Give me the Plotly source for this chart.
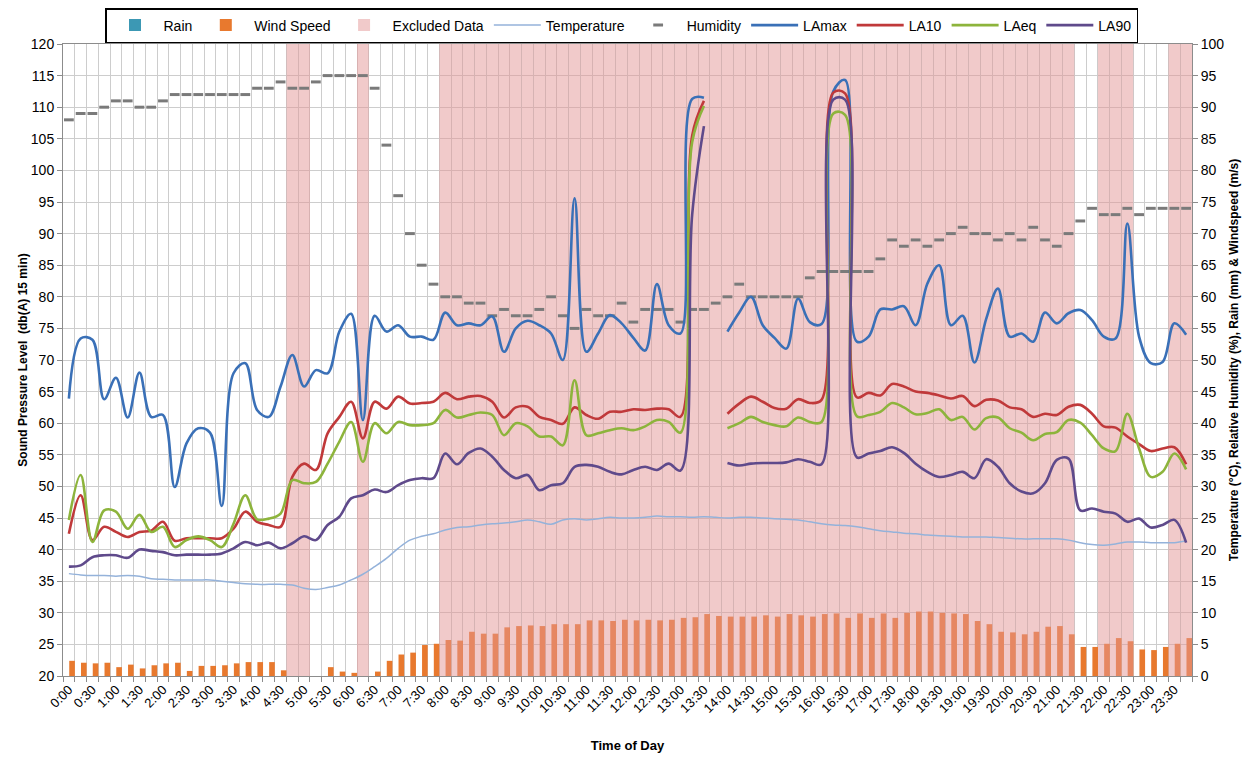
import plotly.graph_objects as go

# ---------------- data ----------------
times = [f"{h}:{m:02d}" for h in range(24) for m in (0, 15, 30, 45)]

la_max = [63.9, 73.4, 73.2, 63.8, 67.2, 60.9, 68.0, 61.0, 61.3, 49.9,
          56.8, 59.2, 58.5, 46.9, 67.9, 69.5, 62.1, 61.0, 65.8, 70.8,
          65.8, 68.4, 67.9, 74.5, 77.3, 60.5, 77.0, 74.5, 75.5, 73.7,
          73.7, 73.2, 77.5, 75.5, 75.8, 75.5, 76.9, 71.3, 75.0, 76.2,
          75.5, 74.2, 70.0, 95.6, 71.3, 74.2, 77.1, 75.8, 73.5, 71.5,
          82.0, 75.5, 74.2, 111.3, 111.5, None, 74.5, 77.5, 80.0, 75.5,
          73.5, 71.8, 79.7, 76.0, 75.7, 112.5, 114.3, 72.9, 73.7, 78.0,
          78.0, 78.5, 75.5, 82.1, 85.0, 75.5, 77.0, 69.6, 76.5, 81.3,
          73.7, 74.2, 72.9, 77.5, 75.8, 77.4, 77.9, 76.3, 73.7, 73.4,
          91.6, 73.7, 69.5, 69.7, 75.8, 74.0]

la_10 = [42.5, 48.6, 41.5, 43.6, 42.8, 42.0, 42.8, 43.0, 44.4, 41.4,
         41.8, 41.8, 41.8, 41.8, 43.3, 46.0, 44.4, 43.9, 43.6, 51.5,
         53.6, 52.6, 58.4, 61.0, 63.4, 57.6, 63.4, 62.3, 64.2, 63.1,
         63.2, 63.4, 64.8, 63.8, 64.2, 64.3, 63.4, 60.9, 62.5, 62.6,
         61.0, 60.5, 59.9, 62.5, 61.3, 60.7, 61.8, 61.8, 62.2, 62.1,
         62.3, 62.2, 61.0, 105.5, 111.0, None, 61.5, 63.1, 64.2, 63.4,
         62.4, 62.3, 63.8, 63.2, 63.7, 112.3, 112.2, 64.1, 64.8, 64.4,
         66.2, 65.8, 65.0, 64.8, 64.4, 63.9, 64.3, 62.7, 63.7, 63.6,
         62.5, 62.2, 61.0, 61.5, 61.3, 62.6, 62.9, 61.5, 59.5, 59.3,
         57.9, 56.7, 55.6, 56.0, 56.2, 53.5]

la_eq = [44.7, 51.8, 41.2, 46.2, 46.0, 43.3, 45.5, 42.8, 43.6, 40.4,
         41.5, 42.1, 41.5, 40.4, 44.1, 48.6, 44.8, 44.9, 45.7, 51.0,
         50.5, 50.7, 53.6, 57.1, 60.2, 53.9, 60.0, 58.4, 60.2, 59.7,
         59.7, 60.0, 62.1, 60.9, 61.3, 61.7, 61.3, 58.1, 60.0, 59.5,
         57.9, 57.9, 56.5, 66.8, 58.1, 58.4, 58.9, 59.2, 58.9, 59.5,
         60.5, 60.2, 58.5, 104.5, 110.2, None, 59.2, 60.0, 61.0, 60.2,
         59.7, 59.5, 60.9, 60.2, 60.2, 109.0, 108.8, 61.1, 61.3, 61.8,
         63.2, 62.5, 61.4, 61.6, 62.2, 60.5, 61.0, 59.0, 60.8, 60.9,
         59.2, 58.5, 57.3, 58.3, 58.6, 60.5, 60.1, 58.1, 56.0, 55.6,
         61.5, 56.0, 51.5, 52.3, 55.2, 52.7]

la_90 = [37.3, 37.5, 38.8, 39.1, 39.1, 38.7, 40.0, 39.8, 39.6, 39.1,
         39.2, 39.2, 39.2, 39.4, 40.2, 41.2, 40.7, 41.1, 40.2, 41.0,
         42.1, 41.5, 43.9, 45.2, 48.1, 48.6, 49.5, 49.1, 50.2, 51.0,
         51.3, 51.3, 55.2, 53.5, 55.3, 56.0, 54.7, 52.6, 51.3, 51.8,
         49.4, 50.2, 50.5, 53.1, 53.4, 53.1, 52.3, 51.9, 52.6, 53.1,
         52.6, 53.6, 52.5, 93.0, 107.0, None, 53.7, 53.3, 53.6, 53.7,
         53.7, 53.8, 54.3, 53.9, 53.5, 111.2, 111.2, 54.6, 55.2, 55.6,
         56.2, 55.3, 53.6, 52.3, 51.5, 51.8, 52.3, 51.3, 54.3, 53.1,
         50.5, 49.2, 48.9, 50.5, 54.2, 54.4, 46.2, 46.5, 46.0, 45.7,
         44.4, 44.9, 43.5, 43.9, 44.7, 41.1]

temperature = [16.2, 16.0, 15.9, 15.9, 15.8, 15.9, 15.8, 15.4, 15.3, 15.2,
               15.2, 15.2, 15.2, 15.0, 14.8, 14.6, 14.5, 14.5, 14.5, 14.4,
               13.9, 13.7, 14.0, 14.4, 15.2, 16.1, 17.3, 18.6, 20.2, 21.5,
               22.1, 22.5, 23.1, 23.5, 23.6, 23.9, 24.1, 24.2, 24.4, 24.7,
               24.4, 24.0, 24.7, 24.9, 24.7, 24.9, 25.1, 25.0, 25.0, 25.1,
               25.3, 25.2, 25.2, 25.1, 25.2, 25.1, 25.0, 25.1, 25.1, 25.0,
               24.9, 24.8, 24.7, 24.4, 24.1, 23.9, 23.8, 23.6, 23.3, 23.0,
               22.8, 22.6, 22.5, 22.3, 22.2, 22.1, 22.0, 22.0, 22.0, 21.9,
               21.8, 21.7, 21.7, 21.7, 21.7, 21.5, 21.1, 20.8, 20.7, 20.9,
               21.2, 21.2, 21.1, 21.1, 21.1, 21.4]

humidity = [88, 89, 89, 90, 91, 91, 90, 90, 91, 92,
            92, 92, 92, 92, 92, 92, 93, 93, 94, 93,
            93, 94, 95, 95, 95, 95, 93, 84, 76, 70,
            65, 62, 60, 60, 59, 59, 57, 58, 57, 57,
            58, 60, 57, 55, 58, 57, 57, 59, 56, 58,
            58, 58, 56, 58, 58, 59, 60, 62, 60, 60,
            60, 60, 60, 63, 64, 64, 64, 64, 64, 66,
            69, 68, 69, 68, 69, 70, 71, 70, 70, 69,
            70, 69, 71, 69, 68, 70, 72, 74, 73, 73,
            74, 73, 74, 74, 74, 74]

wind_speed = [2.4, 2.1, 2.0, 2.1, 1.4, 1.8, 1.2, 1.7, 2.0, 2.1,
              0.8, 1.6, 1.6, 1.7, 2.0, 2.2, 2.2, 2.2, 0.9, 0,
              0, 0, 1.4, 0.7, 0.5, 0, 0.7, 2.4, 3.4, 3.7,
              4.9, 5.1, 5.7, 5.6, 7.0, 6.7, 6.7, 7.7, 7.9, 8.0,
              7.9, 8.2, 8.2, 8.2, 8.8, 8.8, 8.7, 8.9, 8.8, 8.9,
              8.8, 8.9, 9.2, 9.3, 9.8, 9.5, 9.4, 9.4, 9.4, 9.6,
              9.4, 9.8, 9.6, 9.4, 9.8, 9.9, 9.2, 9.9, 9.2, 9.9,
              9.2, 10.0, 10.2, 10.2, 10.0, 9.9, 9.8, 8.7, 8.2, 7.0,
              6.9, 6.6, 7.0, 7.8, 7.9, 6.6, 4.6, 4.6, 5.1, 6.0,
              5.5, 4.2, 4.1, 4.6, 5.1, 6.0]

rain = [0] * 96

excluded_flag = [0, 0, 0, 0, 0, 0, 0, 0, 0, 0,
                 0, 0, 0, 0, 0, 0, 0, 0, 0, 1,
                 1, 0, 0, 0, 0, 1, 0, 0, 0, 0,
                 0, 0, 1, 1, 1, 1, 1, 1, 1, 1,
                 1, 1, 1, 1, 1, 1, 1, 1, 1, 1,
                 1, 1, 1, 1, 1, 1, 1, 1, 1, 1,
                 1, 1, 1, 1, 1, 1, 1, 1, 1, 1,
                 1, 1, 1, 1, 1, 1, 1, 1, 1, 1,
                 1, 1, 1, 1, 1, 1, 0, 0, 1, 1,
                 1, 0, 0, 0, 1, 1]

# ---------------- figure ----------------
x = list(range(len(times)))
excluded = [100 if f else None for f in excluded_flag]

FONT = "Liberation Sans, Arial, sans-serif"
GRID = "#CDCDCD"
AXIS = "#8C8C8C"

fig = go.Figure()

# right-axis (base subplot, drawn first): bars, temperature, humidity
fig.add_trace(go.Bar(x=x, y=rain, name="Rain", yaxis="y",
                     marker=dict(color="#3C98B4", line_width=0),
                     width=0.48, offset=-0.48, legendrank=1))
fig.add_trace(go.Bar(x=x, y=wind_speed, name="Wind Speed", yaxis="y",
                     marker=dict(color="#E8792E", line_width=0),
                     width=0.48, offset=0.03, legendrank=2))
fig.add_trace(go.Bar(x=x, y=excluded, name="Excluded Data", yaxis="y",
                     marker=dict(color="rgba(228,150,150,0.5)", line_width=0),
                     width=1.0, offset=-0.5, legendrank=3))

fig.add_trace(go.Scatter(x=x, y=temperature, name="Temperature", yaxis="y",
                         mode="lines", line=dict(color="#94B2DA", width=1.5, shape="spline"),
                         legendrank=4))
fig.add_trace(go.Scatter(x=x, y=humidity, name="Humidity", yaxis="y",
                         mode="markers",
                         marker=dict(symbol="line-ew", size=7,
                                     line=dict(width=3, color="#7A7A7A")),
                         legendrank=5))

# left-axis (overlay subplot, drawn on top): sound levels
for name, vals, col, rank in [("LAmax", la_max, "#3A70B7", 6),
                              ("LA10", la_10, "#C0393A", 7),
                              ("LAeq", la_eq, "#8DB43C", 8),
                              ("LA90", la_90, "#5F4A8B", 9)]:
    fig.add_trace(go.Scatter(x=x, y=vals, name=name, yaxis="y2",
                             mode="lines", connectgaps=False,
                             line=dict(color=col, width=2.6, shape="spline", smoothing=1.0),
                             legendrank=rank))

boundaries = [i - 0.5 for i in range(len(times) + 1)]

fig.update_layout(
    width=1250, height=750,
    paper_bgcolor="white", plot_bgcolor="white",
    margin=dict(l=55, r=66, t=36, b=82, autoexpand=False),
    font=dict(family=FONT, size=13, color="#000000"),
    barmode="overlay",
    showlegend=True,
    legend=dict(orientation="h", xref="container", yref="container",
                x=0.4908, xanchor="center", y=1.0, yanchor="top",
                bordercolor="#000000", borderwidth=1.5, bgcolor="white",
                itemwidth=47, font=dict(family=FONT, size=14),
                tracegroupgap=0, traceorder="normal"),
    xaxis=dict(range=[-0.5, len(times) - 0.5], automargin=False,
               tickmode="array", tickvals=x[::2], ticktext=times[::2],
               tickangle=-45, ticks="", showgrid=False, zeroline=False,
               showline=True, linecolor=AXIS, mirror=True,
               tickfont=dict(size=13),
               minor=dict(tickmode="array", tickvals=boundaries, ticks="outside",
                          ticklen=5, tickcolor=AXIS, showgrid=True,
                          gridcolor=GRID, gridwidth=1),
               title=dict(text="<b>Time of Day</b>", font=dict(size=13), standoff=26)),
    yaxis=dict(range=[0, 100], tick0=0, dtick=5, side="right", automargin=False,
               showgrid=True, gridcolor=GRID, zeroline=False,
               showline=True, linecolor=AXIS, ticks="outside", ticklen=5,
               tickcolor=AXIS, tickfont=dict(size=14),
               title=dict(text="<b>Temperature (°C), Relative Humidity (%), Rain (mm) & Windspeed (m/s)</b>",
                          font=dict(size=12), standoff=6)),
    yaxis2=dict(range=[20, 120], tick0=20, dtick=5, side="left", overlaying="y",
                automargin=False, showgrid=False, zeroline=False,
                showline=True, linecolor=AXIS, ticks="outside", ticklen=5,
                tickcolor=AXIS, tickfont=dict(size=14),
                title=dict(text="<b>Sound Pressure Level  (db(A) 15 min)</b>",
                           font=dict(size=12), standoff=0)),
)

fig.write_html("out.html")
